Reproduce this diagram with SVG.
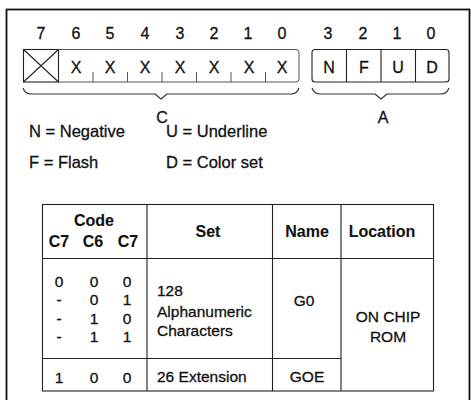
<svg xmlns="http://www.w3.org/2000/svg" width="471" height="400" viewBox="0 0 471 400">
<style>
text{font-family:"Liberation Sans",Arial,sans-serif;fill:#111;stroke:#111;stroke-width:0.3;}
.t{font-size:16px;text-anchor:middle;}
.lg{font-size:16.5px;}
.tb{font-size:15.5px;}
.tc{font-size:15.5px;text-anchor:middle;}
.h{font-size:16px;font-weight:bold;text-anchor:middle;stroke-width:0.1;}
.ln{fill:none;stroke:#222;stroke-width:1.1;}
.lt{fill:none;stroke:#555;stroke-width:1;}
.br{fill:none;stroke:#333;stroke-width:1.1;stroke-linejoin:round;}
</style>
<rect width="471" height="400" fill="#fff"/>
<rect x="6.5" y="9.5" width="463" height="400" fill="none" stroke="#111" stroke-width="1.8"/>

<g id="bitnumbers">
<text class="t" x="41" y="39">7</text>
<text class="t" x="76" y="39">6</text>
<text class="t" x="110" y="39">5</text>
<text class="t" x="145" y="39">4</text>
<text class="t" x="180" y="39">3</text>
<text class="t" x="214" y="39">2</text>
<text class="t" x="248" y="39">1</text>
<text class="t" x="282" y="39">0</text>
<text class="t" x="328" y="39">3</text>
<text class="t" x="363" y="39">2</text>
<text class="t" x="397" y="39">1</text>
<text class="t" x="431" y="39">0</text>
</g>

<g id="register-c">
<rect class="ln" x="23.5" y="49.5" width="35" height="32.5"/>
<path class="ln" d="M23.5,49.5 L58.5,82 M58.5,49.5 L23.5,82"/>
<path class="lt" d="M58.5,49.5 H296 Q299,49.5 299,52.5 V79 Q299,82 296,82 H58.5"/>
<path class="lt" d="M93,72 V82 M127.5,72 V82 M162,72 V82 M196.5,72 V82 M231,72 V82 M265.5,72 V82"/>
<text class="t" x="76" y="73">X</text>
<text class="t" x="110" y="73">X</text>
<text class="t" x="145" y="73">X</text>
<text class="t" x="180" y="73">X</text>
<text class="t" x="214" y="73">X</text>
<text class="t" x="249" y="73">X</text>
<text class="t" x="282" y="73">X</text>
</g>

<g id="register-a">
<rect class="ln" x="312" y="49.5" width="137" height="32.5" rx="3"/>
<path class="ln" d="M346.5,49.5 V82 M381,49.5 V82 M415.5,49.5 V82"/>
<text class="t" x="329" y="73">N</text>
<text class="t" x="364" y="73">F</text>
<text class="t" x="398" y="73">U</text>
<text class="t" x="432" y="73">D</text>
</g>

<g id="connectors">
<path class="br" d="M23,88 Q25,94 31,94 H155 L161,99 L167,94 H291 Q297,94 299,88"/>
<path class="br" d="M312,88 Q314,94 320,94 H375 L381,99 L387,94 H441 Q447,94 449,88"/>
</g>

<g id="label-c"><text class="t" x="162" y="123">C</text></g>
<g id="label-a"><text class="t" x="383" y="123">A</text></g>

<g id="legend">
<text class="lg" x="29" y="137">N = Negative</text>
<text class="lg" x="166" y="137">U = Underline</text>
<text class="lg" x="29" y="168">F = Flash</text>
<text class="lg" x="166" y="168">D = Color set</text>
</g>

<g id="table">
<rect class="ln" x="42.5" y="204.5" width="391" height="186.5"/>
<path class="ln" d="M147,204.5 V391 M272.5,204.5 V391 M341,204.5 V391 M42.5,258.5 H433.5 M42.5,358.5 H341"/>
<text class="h" x="94" y="226">Code</text>
<text class="h" x="59" y="247">C7</text>
<text class="h" x="93" y="247">C6</text>
<text class="h" x="128" y="247">C7</text>
<text class="h" x="208" y="237">Set</text>
<text class="h" x="307" y="237">Name</text>
<text class="h" x="382" y="237">Location</text>

<text class="tc" x="59" y="287">0</text>
<text class="tc" x="94" y="287">0</text>
<text class="tc" x="127" y="287">0</text>
<text class="tc" x="59" y="305">-</text>
<text class="tc" x="94" y="305">0</text>
<text class="tc" x="127" y="305">1</text>
<text class="tc" x="59" y="324">-</text>
<text class="tc" x="94" y="324">1</text>
<text class="tc" x="127" y="324">0</text>
<text class="tc" x="59" y="342">-</text>
<text class="tc" x="94" y="342">1</text>
<text class="tc" x="127" y="342">1</text>
<text class="tc" x="59" y="383">1</text>
<text class="tc" x="94" y="383">0</text>
<text class="tc" x="127" y="383">0</text>

<text class="tb" x="157" y="296">128</text>
<text class="tb" x="157" y="317">Alphanumeric</text>
<text class="tb" x="157" y="336">Characters</text>
<text class="tb" x="157" y="382">26 Extension</text>

<text class="tc" x="304" y="306">G0</text>
<text class="tc" x="307" y="382">GOE</text>
<text class="tc" x="388" y="322">ON CHIP</text>
<text class="tc" x="388" y="342">ROM</text>
</g>
</svg>
